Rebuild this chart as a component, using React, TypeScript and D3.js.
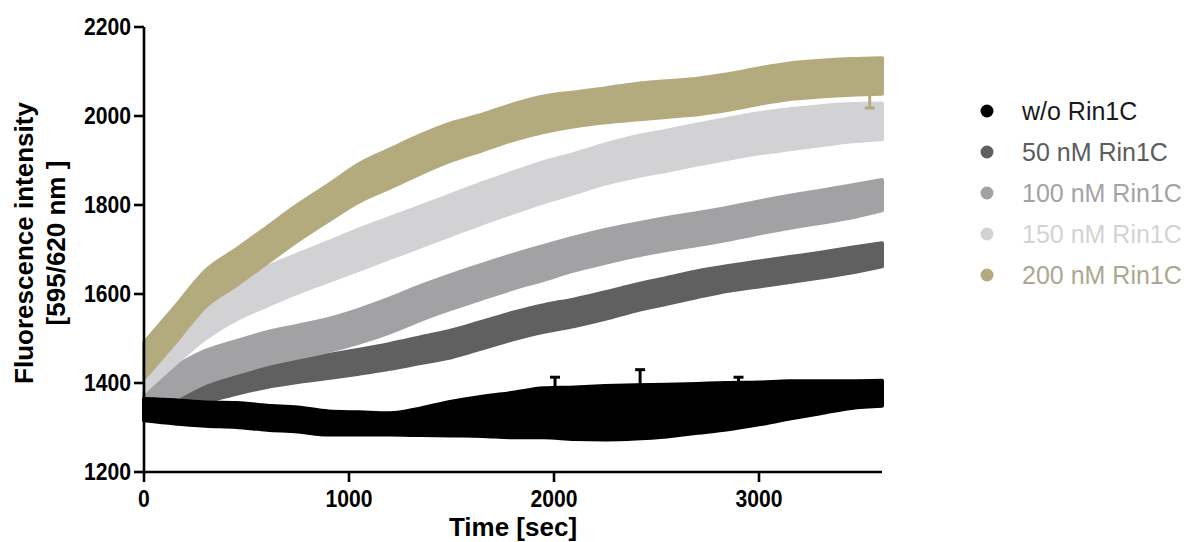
import React from "react";
import * as d3 from "d3";

const times = [0, 150, 300, 450, 600, 750, 900, 1050, 1200, 1350, 1500, 1650, 1800, 1950, 2100, 2250, 2400, 2550, 2700, 2850, 3000, 3150, 3300, 3450, 3600];

const woMean = [1340, 1335, 1330, 1328, 1322, 1318, 1310, 1309, 1308, 1313, 1320, 1325, 1328, 1333, 1332, 1333, 1335, 1338, 1343, 1348, 1354, 1362, 1368, 1374, 1377];
const woErr = [24, 26, 26, 27, 27, 27, 26, 25, 24, 30, 38, 44, 50, 55, 58, 60, 60, 58, 55, 52, 47, 42, 36, 30, 28];

const n50Mean = [1345, 1365, 1382, 1400, 1415, 1427, 1437, 1448, 1460, 1474, 1488, 1508, 1528, 1545, 1558, 1574, 1592, 1607, 1622, 1635, 1645, 1655, 1665, 1676, 1688];
const n50Err = [25, 25, 24, 24, 24, 25, 26, 27, 28, 29, 30, 30, 30, 30, 30, 30, 29, 29, 29, 28, 28, 28, 28, 28, 26];

const n100Mean = [1355, 1400, 1436, 1458, 1478, 1493, 1508, 1528, 1552, 1580, 1605, 1628, 1650, 1670, 1690, 1707, 1722, 1735, 1746, 1758, 1772, 1785, 1796, 1808, 1822];
const n100Err = [35, 36, 36, 36, 36, 36, 36, 37, 38, 38, 38, 38, 38, 38, 37, 37, 36, 36, 36, 36, 36, 36, 36, 36, 34];

const n150Mean = [1410, 1482, 1540, 1585, 1617, 1646, 1673, 1700, 1726, 1752, 1778, 1804, 1828, 1851, 1871, 1892, 1909, 1922, 1936, 1949, 1961, 1970, 1978, 1985, 1988];
const n150Err = [30, 40, 40, 42, 43, 43, 44, 45, 45, 45, 45, 45, 45, 45, 44, 44, 45, 45, 45, 45, 45, 45, 44, 42, 40];

const n200Mean = [1450, 1530, 1612, 1660, 1710, 1760, 1805, 1850, 1882, 1914, 1942, 1963, 1986, 2004, 2015, 2024, 2032, 2038, 2044, 2054, 2067, 2078, 2084, 2088, 2090];
const n200Err = [40, 40, 40, 40, 40, 40, 40, 42, 43, 43, 42, 40, 40, 40, 38, 38, 40, 40, 40, 40, 40, 40, 40, 40, 40];

const seriesNames = ["w/o Rin1C", "50 nM Rin1C", "100 nM Rin1C", "150 nM Rin1C", "200 nM Rin1C"];
const seriesColors = ["#000000", "#606060", "#a2a2a5", "#d2d2d4", "#b3aa7d"];
const legendTextColors = ["#1a1a1a", "#5c5c5c", "#a3a3a3", "#d3d3d3", "#aba88f"];

// isolated long error bars: [series index, time, bar end value]
const spikeSeries = [0, 0, 0, 4];
const spikeTimes = [2005, 2420, 2900, 3540];
const spikeValues = [1413, 1430, 1413, 2018];

const xTicks = [0, 1000, 2000, 3000];
const yTicks = [1200, 1400, 1600, 1800, 2000, 2200];

const means = [woMean, n50Mean, n100Mean, n150Mean, n200Mean];
const errs = [woErr, n50Err, n100Err, n150Err, n200Err];
const drawOrder = [1, 2, 3, 4, 0];

export default function App() {
  const W = 1190, H = 542;
  const x = d3.scaleLinear().domain([0, 3600]).range([144, 882]);
  const y = d3.scaleLinear().domain([1200, 2200]).range([472, 27]);
  const font = "'Liberation Sans', Arial, sans-serif";

  const area = d3
    .area<{ t: number; v: number; e: number }>()
    .x((d) => x(d.t))
    .y0((d) => y(d.v - d.e))
    .y1((d) => y(d.v + d.e))
    .curve(d3.curveMonotoneX);

  const bands = drawOrder.map((si) => {
    const pts = times.map((t, i) => ({ t, v: means[si][i], e: errs[si][i] }));
    return (
      <path
        key={si}
        d={area(pts) || ""}
        fill={seriesColors[si]}
        stroke={seriesColors[si]}
        strokeWidth={4}
        strokeLinejoin="round"
      />
    );
  });

  const spikes = spikeTimes.map((t, i) => {
    const si = spikeSeries[i];
    const meanAt = d3.scaleLinear().domain(times).range(means[si])(t);
    const px = x(t);
    return (
      <g key={i} stroke={seriesColors[si]} strokeWidth={3}>
        <line x1={px} x2={px} y1={y(meanAt)} y2={y(spikeValues[i])} />
        <line x1={px - 5} x2={px + 5} y1={y(spikeValues[i])} y2={y(spikeValues[i])} />
      </g>
    );
  });

  return (
    <svg
      width={W}
      height={H}
      style={{ position: "absolute", left: 0, top: 0, background: "#fff" }}
      fontFamily={font}
    >
      <rect width={W} height={H} fill="#fff" />
      {bands}
      {spikes}

      {/* axes */}
      <g stroke="#000" strokeWidth={2.6} fill="none">
        <line x1={x(0)} x2={x(0)} y1={y(2200)} y2={y(1200) + 1.3} />
        <line x1={x(0) - 1.3} x2={x(3600)} y1={y(1200)} y2={y(1200)} />
        {yTicks.map((v) => (
          <line key={v} x1={x(0) - 10} x2={x(0)} y1={y(v)} y2={y(v)} />
        ))}
        {xTicks.map((v) => (
          <line key={v} x1={x(v)} x2={x(v)} y1={y(1200)} y2={y(1200) + 10} />
        ))}
      </g>
      <g fontWeight="bold" fontSize={23} fill="#000">
        {yTicks.map((v) => (
          <text
            key={v}
            transform={`translate(${x(0) - 13},${y(v)}) scale(0.92,1)`}
            dy="0.35em"
            textAnchor="end"
          >
            {v}
          </text>
        ))}
        {xTicks.map((v) => (
          <text key={v} transform={`translate(${x(v)},507) scale(0.92,1)`} textAnchor="middle">
            {v}
          </text>
        ))}
      </g>
      <text x={513} y={536} textAnchor="middle" fontWeight="bold" fontSize={26}>
        Time [sec]
      </text>
      <g fontWeight="bold" fontSize={26} textAnchor="middle">
        <text transform="translate(33,243) rotate(-90)">Fluorescence intensity</text>
        <text transform="translate(65,243) rotate(-90)">[595/620 nm ]</text>
      </g>

      {/* legend */}
      <g fontSize={25}>
        {seriesNames.map((name, i) => (
          <g key={name} transform={`translate(0,${111 + i * 41})`}>
            <circle cx={987} cy={0} r={6.5} fill={seriesColors[i]} />
            <text x={1022} y={0} dy="0.36em" fill={legendTextColors[i]}>
              {name}
            </text>
          </g>
        ))}
      </g>
    </svg>
  );
}
